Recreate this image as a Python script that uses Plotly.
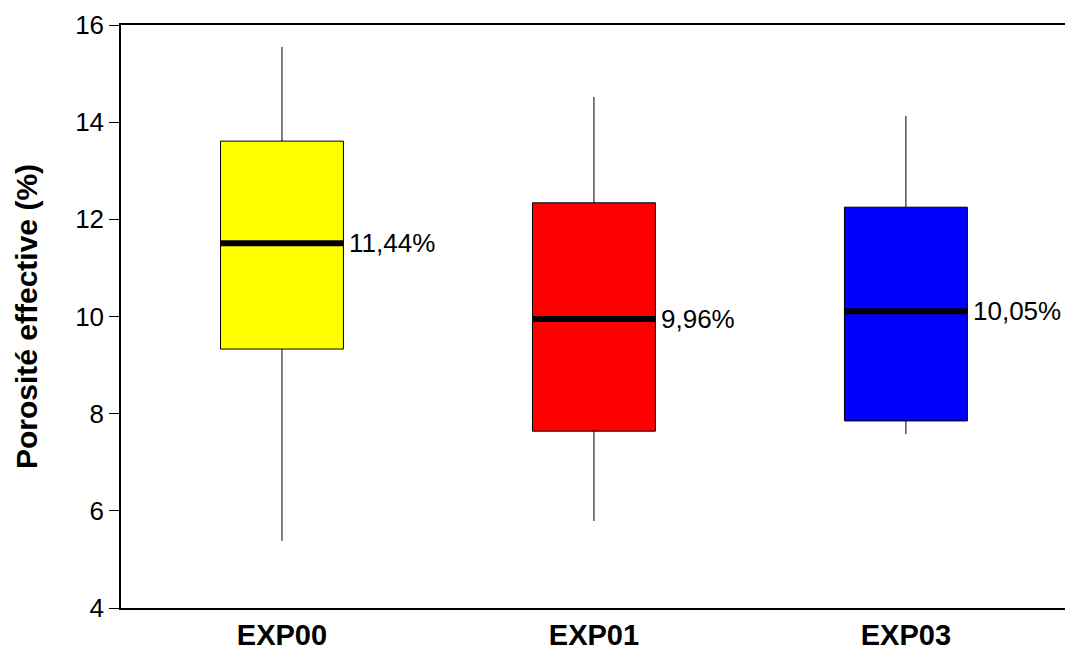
import plotly.graph_objects as go

categories = ["EXP00", "EXP01", "EXP03"]
upper_whisker = [15.55, 14.52, 14.13]
q3 = [13.61, 12.34, 12.25]
median = [11.51, 9.95, 10.11]
q1 = [9.33, 7.64, 7.85]
lower_whisker = [5.38, 5.79, 7.58]
median_labels = ["11,44%", "9,96%", "10,05%"]
colors = ["#ffff00", "#ff0000", "#0000ff"]

FONT = "Liberation Sans, Arial"
box_w = 0.394
fig = go.Figure()
for i, c in enumerate(categories):
    fig.add_trace(go.Box(
        x=[i], q1=[q1[i]], median=[median[i]], q3=[q3[i]],
        lowerfence=[lower_whisker[i]], upperfence=[upper_whisker[i]],
        width=box_w, fillcolor=colors[i],
        line=dict(color="black", width=1), whiskerwidth=0,
        boxpoints=False, showlegend=False, hoverinfo="skip"))
    fig.add_trace(go.Scatter(
        x=[i - box_w / 2, i + box_w / 2], y=[median[i], median[i]],
        mode="lines", line=dict(color="black", width=6),
        showlegend=False, hoverinfo="skip"))
    fig.add_annotation(x=i + box_w / 2 + 0.012, y=median[i], text=median_labels[i],
                       xanchor="left", yanchor="middle", showarrow=False,
                       font=dict(size=26, color="black", family=FONT))

fig.update_layout(
    width=1065, height=651,
    margin=dict(l=121, r=0, t=25, b=43),
    plot_bgcolor="white", paper_bgcolor="white",
    boxmode="overlay",
    font=dict(family=FONT, color="black"),
    xaxis=dict(range=[-0.516, 2.51], tickvals=[0, 1, 2], ticktext=categories,
               showline=True, linecolor="black", linewidth=1.5, mirror=True,
               ticks="", showgrid=False, zeroline=False,
               tickfont=dict(size=29, family=FONT, color="black", weight="bold")),
    yaxis=dict(range=[4, 16], tickvals=[4, 6, 8, 10, 12, 14, 16],
               showline=True, linecolor="black", linewidth=1.5,
               ticks="outside", ticklen=10, tickwidth=1, tickcolor="black",
               showgrid=False, zeroline=False,
               tickfont=dict(size=26, color="black"),
               title=dict(text="<b>Porosité effective (%)</b>", font=dict(size=30, color="black"),
                          standoff=29)),
)

fig.write_html("out.html", config={"displayModeBar": False},
               post_script="document.body.style.margin='0';document.body.style.overflow='hidden';")
